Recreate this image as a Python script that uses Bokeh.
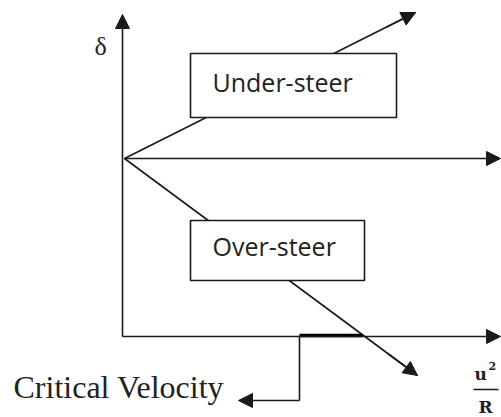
from bokeh.plotting import figure
from bokeh.models import Range1d, Arrow, NormalHead
from bokeh.core.properties import value
from bokeh.embed import file_html
from bokeh.resources import INLINE

# ---- diagram geometry (reference pixel units, y grows downward) ----
origin = [124, 158]
axis_x = 122
axis_top = 14
base_y = 336
right_end = 500
under_tip = [415, 12]
over_tip = [417, 375]
crit_x = [299, 362]
crit_drop = 400
crit_tip_x = 238

under_box = dict(left=190, right=396, top=53, bottom=117)
over_box = dict(left=190, right=364, top=220, bottom=280)

labels = ["Under-steer", "Over-steer"]
label_x = [212, 212]
label_y = [81, 245]

LC = "#1a1a1a"
LW = 1.6

W, H = 501, 417
p = figure(width=W, height=H, output_backend="svg", toolbar_location=None,
           x_range=Range1d(0, W), y_range=Range1d(H, 0), min_border=0)
p.axis.visible = False
p.grid.visible = False
p.outline_line_color = None
p.background_fill_color = "white"
p.border_fill_color = "white"

def head():
    return NormalHead(size=14, fill_color=LC, line_color=LC, line_width=1)

# axes
p.add_layout(Arrow(end=head(), x_start=axis_x, y_start=base_y, x_end=axis_x, y_end=axis_top,
                   line_color=LC, line_width=LW))
p.add_layout(Arrow(end=head(), x_start=axis_x, y_start=base_y, x_end=right_end, y_end=base_y,
                   line_color=LC, line_width=LW))
# neutral line
p.add_layout(Arrow(end=head(), x_start=origin[0], y_start=origin[1], x_end=right_end, y_end=origin[1],
                   line_color=LC, line_width=LW))

# under / over steer lines (boxes drawn on top hide the middle part)
p.segment(x0=[origin[0], origin[0]], y0=[origin[1], origin[1]],
          x1=[under_tip[0], over_tip[0]], y1=[under_tip[1], over_tip[1]],
          line_color=LC, line_width=LW)

for b in (under_box, over_box):
    p.quad(left=b["left"], right=b["right"], top=b["top"], bottom=b["bottom"],
           fill_color="white", line_color=LC, line_width=LW)

def frac_point(tip, t):
    return origin[0] + (tip[0] - origin[0]) * t, origin[1] + (tip[1] - origin[1]) * t

ux, uy = frac_point(under_tip, 0.9)
ox, oy = frac_point(over_tip, 0.9)
p.add_layout(Arrow(end=head(), x_start=ux, y_start=uy, x_end=under_tip[0], y_end=under_tip[1],
                   line_color=LC, line_width=LW))
p.add_layout(Arrow(end=head(), x_start=ox, y_start=oy, x_end=over_tip[0], y_end=over_tip[1],
                   line_color=LC, line_width=LW))

# critical velocity marker
p.line(x=crit_x, y=[base_y - 1, base_y - 1], line_color="black", line_width=3.5)
p.line(x=[crit_x[0], crit_x[0]], y=[base_y - 1, crit_drop], line_color=LC, line_width=LW)
p.add_layout(Arrow(end=head(), x_start=crit_x[0], y_start=crit_drop, x_end=crit_tip_x, y_end=crit_drop,
                   line_color=LC, line_width=LW))

# box labels
p.text(x=label_x, y=label_y, text=labels, text_font=value("Open Sans"), text_font_size="25px",
       text_color="#222", text_align="left", text_baseline="middle")

# other texts
p.text(x=[13], y=[386], text=["Critical Velocity"], text_font=value("Liberation Serif"),
       text_font_size="32px", text_color="#222", text_align="left", text_baseline="middle")
p.text(x=[94], y=[46], text=["δ"], text_font=value("Liberation Serif"),
       text_font_size="26px", text_color="#222", text_align="left", text_baseline="middle")

# u^2 / R
fx = 473
p.text(x=[fx + 1], y=[373], text=["u"], text_font=value("DejaVu Serif"), text_font_size="17px",
       text_font_style="bold", text_color="#222", text_align="left", text_baseline="middle")
p.text(x=[fx + 15], y=[365], text=["2"], text_font=value("DejaVu Serif"), text_font_size="11px",
       text_font_style="bold", text_color="#222", text_align="left", text_baseline="middle")
p.line(x=[fx, fx + 25], y=[389, 389], line_color=LC, line_width=1.5)
p.text(x=[fx + 5], y=[406], text=["R"], text_font=value("DejaVu Serif"), text_font_size="17px",
       text_font_style="bold", text_color="#222", text_align="left", text_baseline="middle")

open("out.html", "w").write(file_html(p, INLINE))
